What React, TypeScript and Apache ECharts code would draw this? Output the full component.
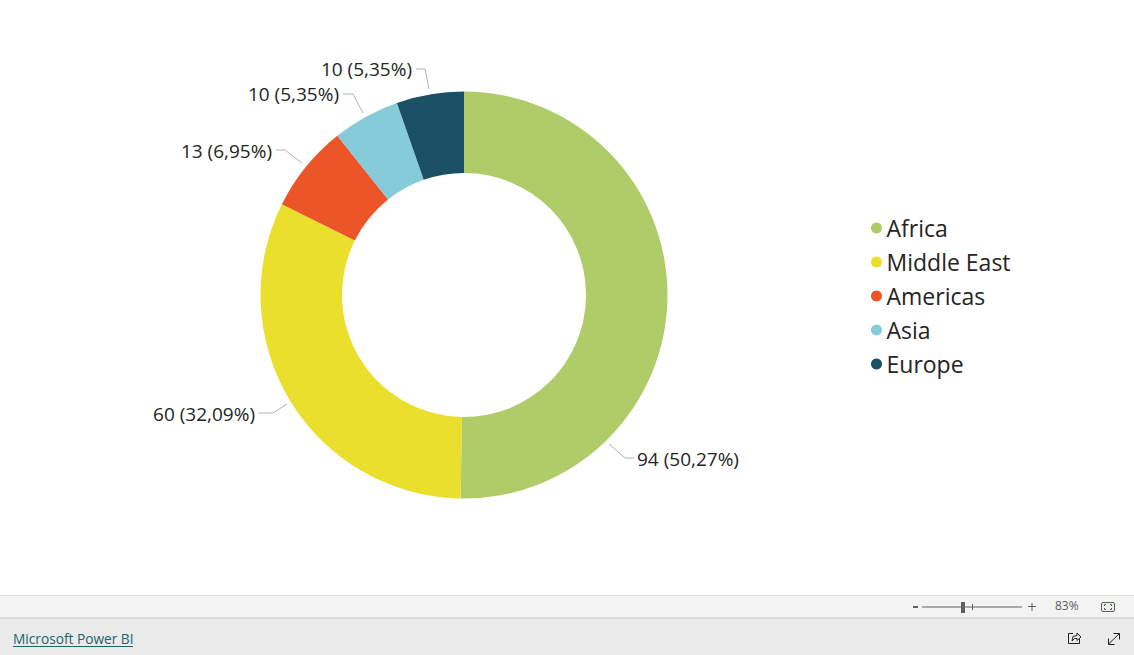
import React, { useEffect, useRef } from "react";
import * as echarts from "echarts";

const categories = ["Africa", "Middle East", "Americas", "Asia", "Europe"];
const values = [94, 60, 13, 10, 10];
const colors = ["#B0CC69", "#E9DF2C", "#EB5528", "#86CBDA", "#1B4F63"];
const percentLabels = ["50,27%", "32,09%", "6,95%", "5,35%", "5,35%"];
const footerLink = "Microsoft Power BI";
const zoomText = "83%";

const FONT = "'Open Sans', sans-serif";

// Label anchor and leader-line placement for each slice, in page pixels.
const labelPlacement = [
  { x: 637, y: 459, align: "left", line: [[609, 444], [625, 458], [634, 458]] },
  { x: 255, y: 414, align: "right", line: [[287, 404], [273, 413], [258, 413]] },
  { x: 272, y: 151, align: "right", line: [[302, 163], [285, 150], [276, 150]] },
  { x: 339, y: 94, align: "right", line: [[363, 113], [353, 94], [343, 94]] },
  { x: 412, y: 69, align: "right", line: [[429, 89], [425, 69], [416, 69]] },
];

export default function App() {
  const ref = useRef<HTMLDivElement>(null);
  useEffect(() => {
    const chart = echarts.init(ref.current!, null, { renderer: "svg" });
    const grey = "#5f6062";
    const dark = "#222222";
    const icon = (points: number[][], stroke = dark) => ({
      type: "polyline",
      shape: { points },
      style: { stroke, fill: "none", lineWidth: 1 },
    });
    chart.setOption({
      animation: false,
      backgroundColor: "#ffffff",
      color: colors,
      legend: {
        orient: "vertical",
        left: 866,
        top: 210,
        itemWidth: 18,
        itemHeight: 11,
        itemGap: 8,
        icon: "circle",
        selectedMode: false,
        data: categories,
        textStyle: { fontFamily: FONT, fontSize: 23, color: "#252423", padding: [0, 0, 2, -4], height: 24, lineHeight: 24 },
      },
      series: [
        {
          type: "pie",
          center: [464, 295],
          radius: [122, 203.5],
          startAngle: 90,
          clockwise: true,
          silent: true,
          avoidLabelOverlap: false,
          data: categories.map((name, i) => ({ name, value: values[i] })),
          itemStyle: { borderColor: "#ffffff", borderWidth: 0 },
          label: {
            show: true,
            position: "outside",
            fontFamily: FONT,
            fontSize: 19,
            color: "#252423",
            formatter: (p: any) => `${values[p.dataIndex]} (${percentLabels[p.dataIndex]})`,
          },
          labelLine: {
            show: true,
            length: 18,
            length2: 10,
            lineStyle: { color: "#b3b3b3", width: 1 },
          },
          labelLayout: (p: any) => {
            const place = labelPlacement[p.dataIndex];
            return {
              x: place.x,
              y: place.y,
              align: place.align,
              verticalAlign: "middle",
              labelLinePoints: place.line,
            };
          },
        },
      ],
      graphic: [
        { type: "rect", shape: { x: 0, y: 596, width: 1134, height: 22 }, style: { fill: "#f3f3f3" } },
        { type: "rect", shape: { x: 0, y: 618, width: 1134, height: 37 }, style: { fill: "#eaeaea" } },
        { type: "line", shape: { x1: 0, y1: 595.5, x2: 1134, y2: 595.5 }, style: { stroke: "#e0e0e0", lineWidth: 1 } },
        { type: "line", shape: { x1: 0, y1: 618, x2: 1134, y2: 618 }, style: { stroke: "#c8c8c8", lineWidth: 1 } },
        { type: "text", x: 13, y: 631, style: { text: footerLink, font: `13.7px ${FONT}`, fill: "#17666c" } },
        { type: "line", shape: { x1: 13, y1: 646.5, x2: 133, y2: 646.5 }, style: { stroke: "#17666c", lineWidth: 1 } },
        { type: "rect", shape: { x: 913, y: 606, width: 5, height: 2 }, style: { fill: grey } },
        { type: "line", shape: { x1: 922, y1: 607, x2: 1022, y2: 607 }, style: { stroke: grey, lineWidth: 1 } },
        { type: "line", shape: { x1: 972.5, y1: 604, x2: 972.5, y2: 610 }, style: { stroke: grey, lineWidth: 1 } },
        { type: "rect", shape: { x: 961, y: 602, width: 4, height: 11 }, style: { fill: grey } },
        { type: "line", shape: { x1: 1028, y1: 606.5, x2: 1036, y2: 606.5 }, style: { stroke: grey, lineWidth: 1 } },
        { type: "line", shape: { x1: 1032, y1: 603, x2: 1032, y2: 611 }, style: { stroke: grey, lineWidth: 1 } },
        { type: "text", x: 1055, y: 599, style: { text: zoomText, font: `12px ${FONT}`, fill: grey } },
        { type: "rect", shape: { x: 1101.5, y: 602.5, width: 13, height: 9, r: 1.5 }, style: { fill: "#e8f0e8", stroke: grey, lineWidth: 1 } },
        icon([[1104.5, 606], [1104.5, 604.5], [1106, 604.5]], grey),
        icon([[1110, 604.5], [1111.5, 604.5], [1111.5, 606]], grey),
        icon([[1104.5, 608], [1104.5, 609.5], [1106, 609.5]], grey),
        icon([[1110, 609.5], [1111.5, 609.5], [1111.5, 608]], grey),
        icon([[1073, 633.5], [1068.5, 633.5], [1068.5, 643.5], [1079.5, 643.5], [1079.5, 639]]),
        icon([[1072, 641], [1073, 636.5], [1077, 635.5], [1077, 633], [1081, 637], [1077, 640.5], [1077, 638.5], [1074.5, 638.5], [1072, 641]]),
        { type: "line", shape: { x1: 1108.5, y1: 644, x2: 1119.5, y2: 633.5 }, style: { stroke: dark, lineWidth: 1 } },
        icon([[1113.5, 633.5], [1119.5, 633.5], [1119.5, 639.5]]),
        icon([[1108.5, 638.5], [1108.5, 644.5], [1114.5, 644.5]]),
      ],
    });
    return () => chart.dispose();
  }, []);
  return <div ref={ref} style={{ position: "fixed", left: 0, top: 0, width: 1134, height: 655 }} />;
}
